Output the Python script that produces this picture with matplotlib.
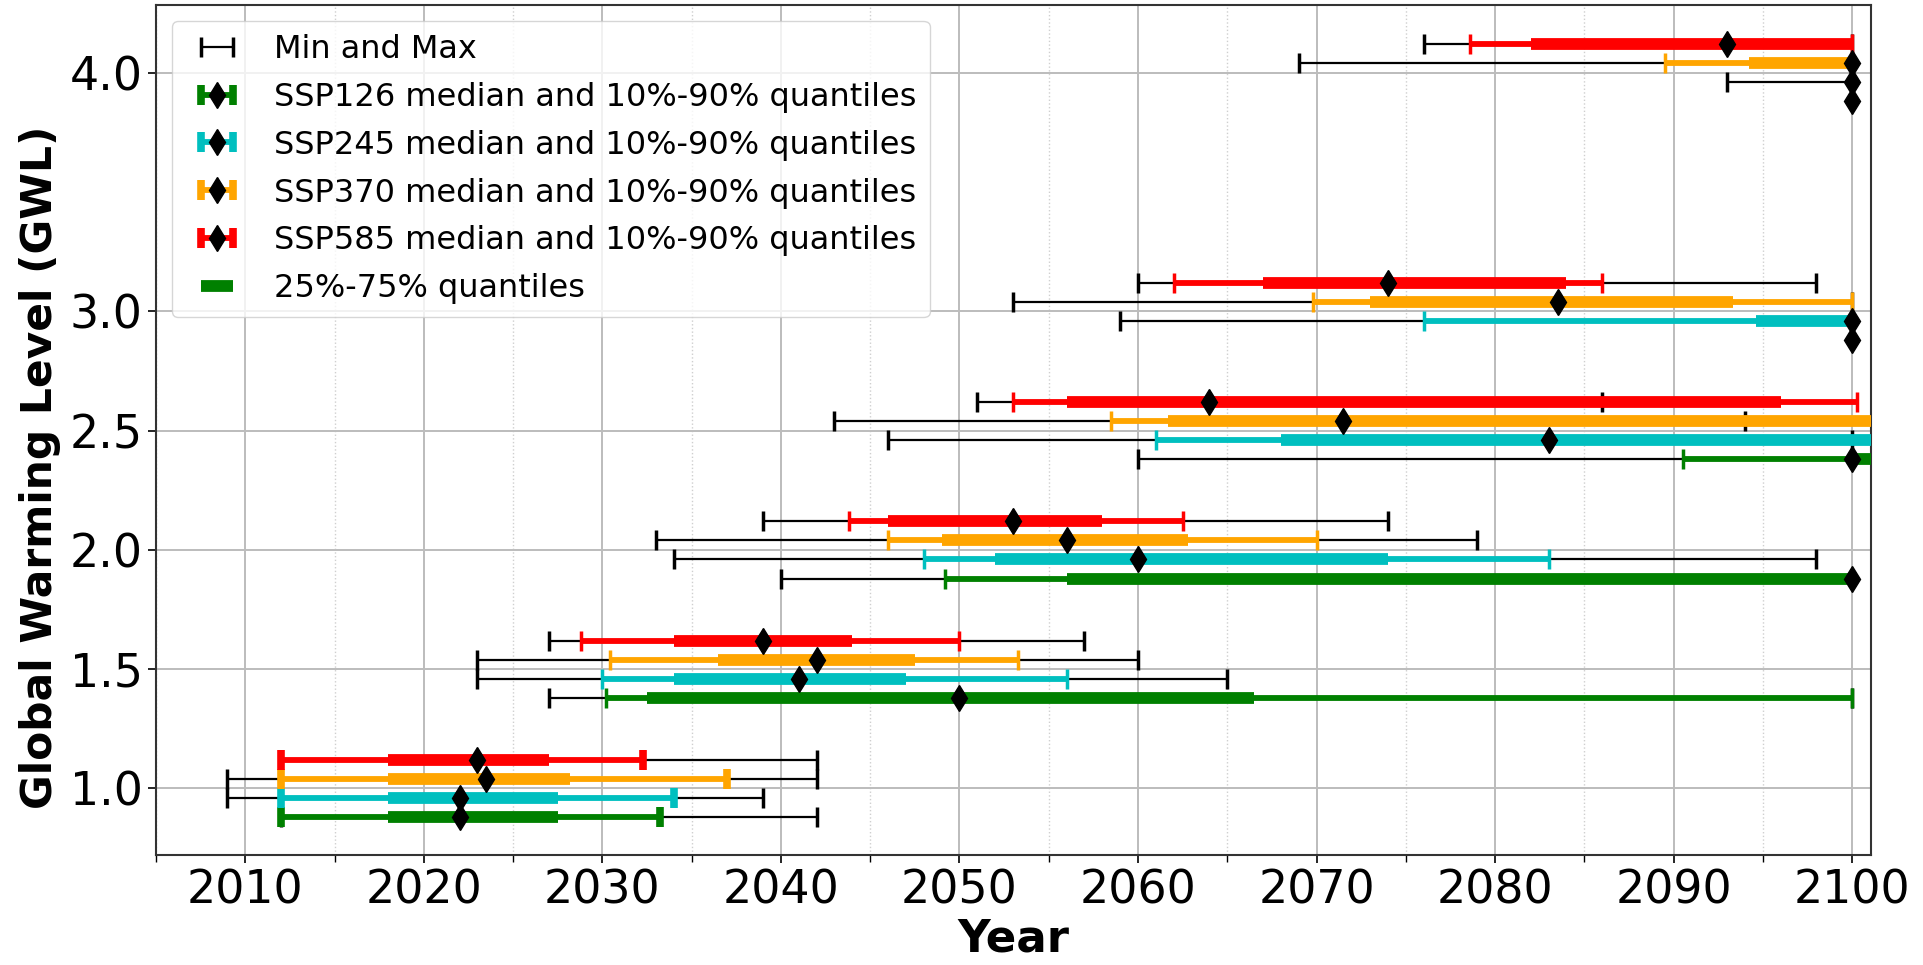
import numpy as np
import matplotlib
matplotlib.use("Agg")
import matplotlib.pyplot as plt
from matplotlib.ticker import MultipleLocator

# warming levels and scenarios
gwl_levels = [1.0, 1.5, 2.0, 2.5, 3.0, 4.0]
scenarios = ["SSP126", "SSP245", "SSP370", "SSP585"]
colors = ["green", "c", "orange", "red"]
row_offset = [-0.12, -0.04, 0.04, 0.12]

# year of reaching each GWL, rows = scenarios, cols = gwl_levels
# (values > 2101 run off the right edge of the plot)
year_min = [[2012, 2027, 2040, 2060, 2100, 2100],
            [2009, 2023, 2034, 2046, 2059, 2093],
            [2009, 2023, 2033, 2043, 2053, 2069],
            [2012, 2027, 2039, 2051, 2060, 2076]]
year_q10 = [[2012, 2030.2, 2049.2, 2090.5, 2100, 2100],
            [2012, 2030, 2048, 2061, 2076, 2100],
            [2012, 2030.4, 2046, 2058.5, 2069.8, 2089.5],
            [2012, 2028.8, 2043.8, 2053, 2062, 2078.6]]
year_q25 = [[2018, 2032.5, 2056, 2100, 2100, 2100],
            [2018, 2034, 2052, 2068, 2094.6, 2100],
            [2018, 2036.5, 2049, 2061.7, 2073, 2094.2],
            [2018, 2034, 2046, 2056, 2067, 2082]]
year_med = [[2022, 2050, 2100, 2100, 2100, 2100],
            [2022, 2041, 2060, 2083, 2100, 2100],
            [2023.5, 2042, 2056, 2071.5, 2083.5, 2100],
            [2023, 2039, 2053, 2064, 2074, 2093]]
year_q75 = [[2027.5, 2066.5, 2100, 2110, 2100, 2100],
            [2027.5, 2047, 2074, 2110, 2100, 2100],
            [2028.2, 2047.5, 2062.8, 2110, 2093.3, 2100],
            [2027, 2044, 2058, 2096, 2084, 2100]]
year_q90 = [[2033.2, 2100, 2100, 2110, 2100, 2100],
            [2034, 2056, 2083, 2110, 2100, 2100],
            [2037, 2053.3, 2070, 2110, 2100, 2100],
            [2032.3, 2050, 2062.5, 2100.25, 2086, 2100]]
year_max = [[2042, 2100, 2100, 2100, 2100, 2100],
            [2039, 2065, 2098, 2100, 2100, 2100],
            [2042, 2060, 2079, 2094, 2100, 2100],
            [2042, 2057, 2074, 2086, 2098, 2100]]

fig = plt.figure(figsize=(19.24, 9.65), dpi=100)
ax = fig.add_axes([0.0811, 0.1137, 0.8913, 0.8811])

h_minmax = None
h_ssp = []
h_iqr = None
for s in range(len(scenarios)):
    c = colors[s]
    for g in range(len(gwl_levels)):
        y = gwl_levels[g] + row_offset[s]
        med = year_med[s][g]
        # min-max whisker
        eb0 = ax.errorbar(med, y, xerr=[[med - year_min[s][g]], [year_max[s][g] - med]],
                          fmt="none", ecolor="k", elinewidth=1.6, capsize=7,
                          capthick=2.5, zorder=1.5)
        # 10-90% range with median marker (first level has heavier caps)
        ct = 5.5 if g == 0 else 2.5
        eb = ax.errorbar(med, y, xerr=[[med - year_q10[s][g]], [year_q90[s][g] - med]],
                         fmt="d", color="k", ms=13.5, ecolor=c, elinewidth=4.2,
                         capsize=7, capthick=ct, zorder=2)
        eb.lines[0].set_zorder(5)
        # 25-75% range (errorbar without caps, so the legend key is short)
        q25, q75 = year_q25[s][g], year_q75[s][g]
        eb2 = ax.errorbar((q25 + q75) / 2, y, xerr=(q75 - q25) / 2, fmt="none",
                          ecolor=c, elinewidth=8.5, capsize=0, zorder=3)
        if g == 0:
            if s == 0:
                h_minmax = eb0
                h_iqr = eb2
            h_ssp.append(eb)

handles = [h_minmax] + h_ssp + [h_iqr]
labels = ["Min and Max"] + [sc + " median and 10%-90% quantiles" for sc in scenarios] \
         + ["25%-75% quantiles"]
ax.legend(handles, labels, loc="upper left", fontsize=23, labelspacing=0.53)

ax.set_xlim(2005, 2101.05)
ax.set_ylim(0.72, 4.284)
ax.set_yticks(gwl_levels)
ax.set_yticklabels(["%.1f" % v for v in gwl_levels])
ax.xaxis.set_major_locator(MultipleLocator(10))
ax.xaxis.set_minor_locator(MultipleLocator(5))
ax.grid(which="major", color="#bcbcbc", lw=1.4)
ax.grid(which="minor", axis="x", color="#cfcfcf", lw=1.0, ls=":")
ax.set_axisbelow(True)
ax.tick_params(which="major", labelsize=33, length=6, width=1.2)
ax.tick_params(which="minor", length=5, width=1.0)
for sp in ax.spines.values():
    sp.set_color("#333333")
    sp.set_linewidth(1.5)

ax.set_xlabel("Year", fontsize=32.5, fontweight="bold", labelpad=3)
ax.set_ylabel("Global Warming Level (GWL)", fontsize=30.5, fontweight="bold", labelpad=6)
ax.yaxis.label.set_y(0.456)

fig.savefig("out.png", dpi=100)
